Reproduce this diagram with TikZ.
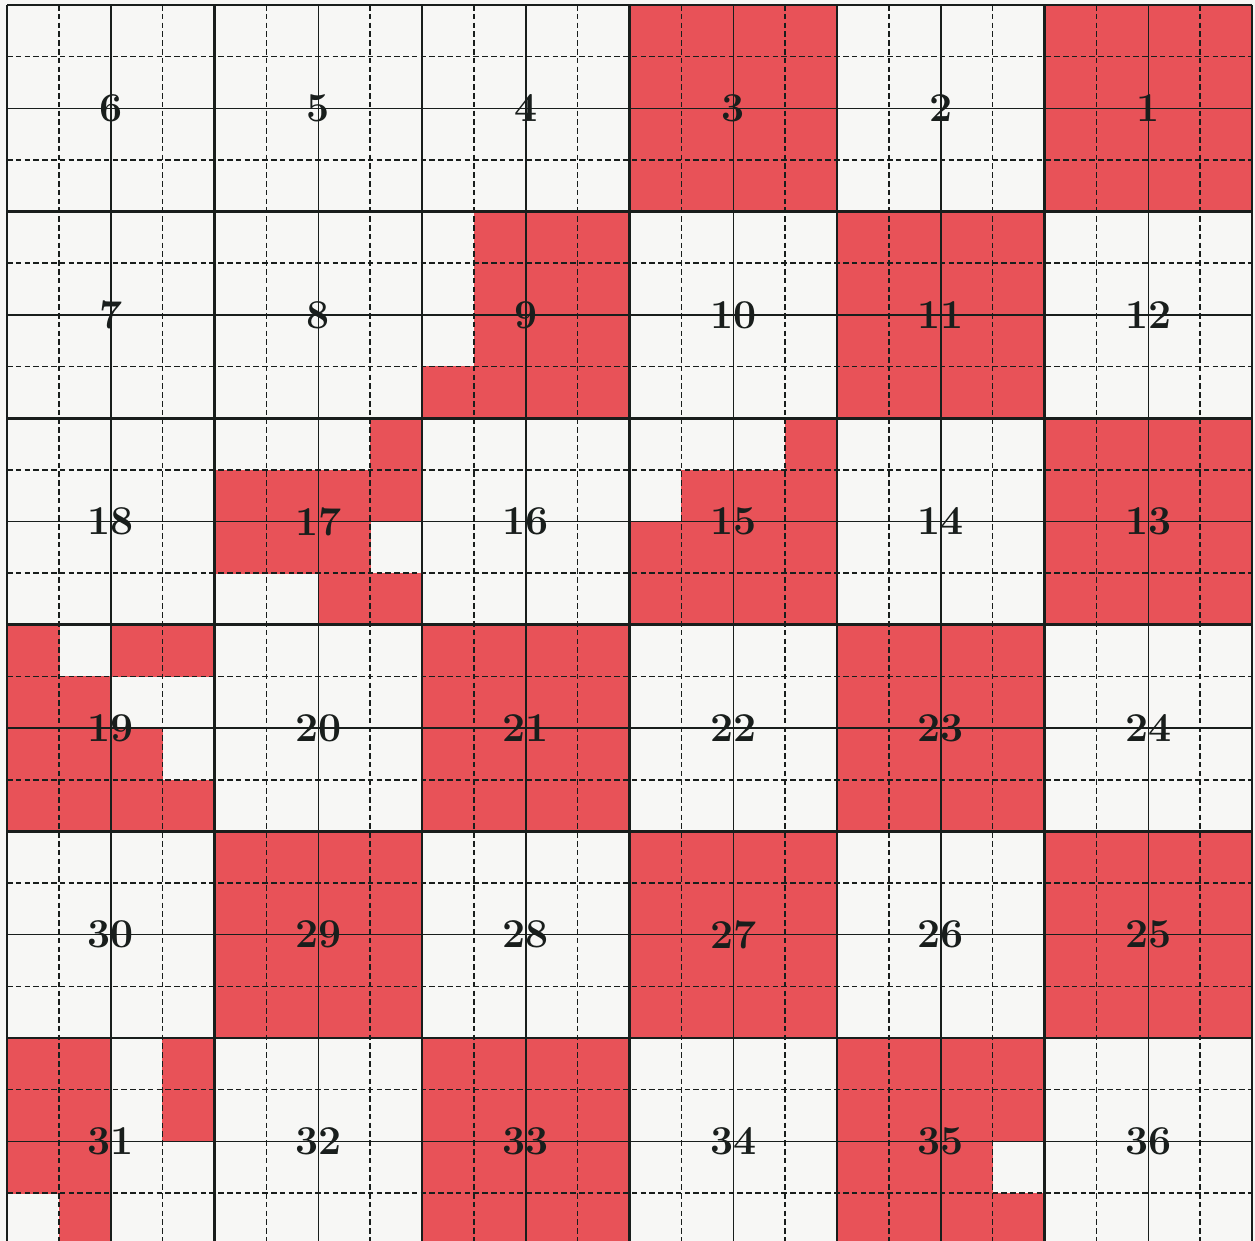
\documentclass[tikz,border=0pt]{standalone}
\definecolor{plotred}{RGB}{232,82,88}
\definecolor{paper}{RGB}{247,247,245}
\definecolor{ink}{RGB}{25,30,28}
\newcommand\rr[6]{\fill[redfill] ({7+(4*#1+#3)*51.875},{5+(4*#2+#4)*51.65}) rectangle ({7+(4*#1+#5)*51.875},{5+(4*#2+#6)*51.65});}
\begin{document}
\begin{tikzpicture}[x=0.5pt,y=-0.5pt,
  secline/.style={line width=1.4pt, draw=ink},
  halfline/.style={line width=0.75pt, draw=ink},
  qqline/.style={line width=0.8pt, draw=ink, dash pattern=on 2.8pt off 1.6pt},
  num/.style={font=\fontsize{20.5}{20.5}\selectfont\bfseries, inner sep=0pt, text=ink},
  redfill/.style={fill=plotred, draw=plotred, line width=0.2pt}]
\useasboundingbox (0,0) rectangle (1255,1241);
\clip (0,0) rectangle (1255,1241);
\fill[paper] (0,0) rectangle (1255,1241);
% full sections
\foreach \c/\r in {3/0,5/0,4/1,5/2,2/3,4/3,1/4,3/4,5/4,2/5}{\rr{\c}{\r}{0}{0}{4}{4}}
% section 9
\rr{2}{1}{1}{0}{4}{4} \rr{2}{1}{0}{3}{1}{4}
% section 17
\rr{1}{2}{3}{0}{4}{1} \rr{1}{2}{0}{1}{4}{2} \rr{1}{2}{0}{2}{3}{3} \rr{1}{2}{2}{3}{4}{4}
% section 15
\rr{3}{2}{3}{0}{4}{1} \rr{3}{2}{1}{1}{4}{2} \rr{3}{2}{0}{2}{4}{4}
% section 19
\rr{0}{3}{0}{0}{1}{1} \rr{0}{3}{2}{0}{4}{1} \rr{0}{3}{0}{1}{2}{2} \rr{0}{3}{0}{2}{3}{3} \rr{0}{3}{0}{3}{4}{4}
% section 31
\rr{0}{5}{0}{0}{2}{3} \rr{0}{5}{1}{3}{2}{4} \rr{0}{5}{3}{0}{4}{2}
% section 35
\rr{4}{5}{0}{0}{4}{2} \rr{4}{5}{0}{2}{3}{3} \rr{4}{5}{0}{3}{4}{4}
% quarter-quarter dashed lines
\foreach \g in {1,3,...,23}{
  \draw[qqline] ({7+\g*51.875},5) -- ({7+\g*51.875},1241);
  \draw[qqline] (7,{5+\g*51.65}) -- (1252,{5+\g*51.65});
}
% half-section lines
\foreach \g in {2,6,...,22}{
  \draw[halfline] ({7+\g*51.875},5) -- ({7+\g*51.875},1241);
  \draw[halfline] (7,{5+\g*51.65}) -- (1252,{5+\g*51.65});
}
% section lines
\foreach \g in {0,4,...,24}{
  \draw[secline] ({7+\g*51.875},5) -- ({7+\g*51.875},1241);
}
\foreach \g in {0,4,...,20}{
  \draw[secline] (7,{5+\g*51.65}) -- (1252,{5+\g*51.65});
}
% section numbers
\foreach \r in {0,...,5}{
  \foreach \c in {0,...,5}{
    \pgfmathtruncatemacro\n{ifthenelse(mod(\r,2)==0, 6*\r+6-\c, 6*\r+\c+1)}
    \node[num] (s\n) at ({7+(\c+0.5)*207.5},{5+(\r+0.5)*206.6}) {\n};
  }
}
\end{tikzpicture}
\end{document}
